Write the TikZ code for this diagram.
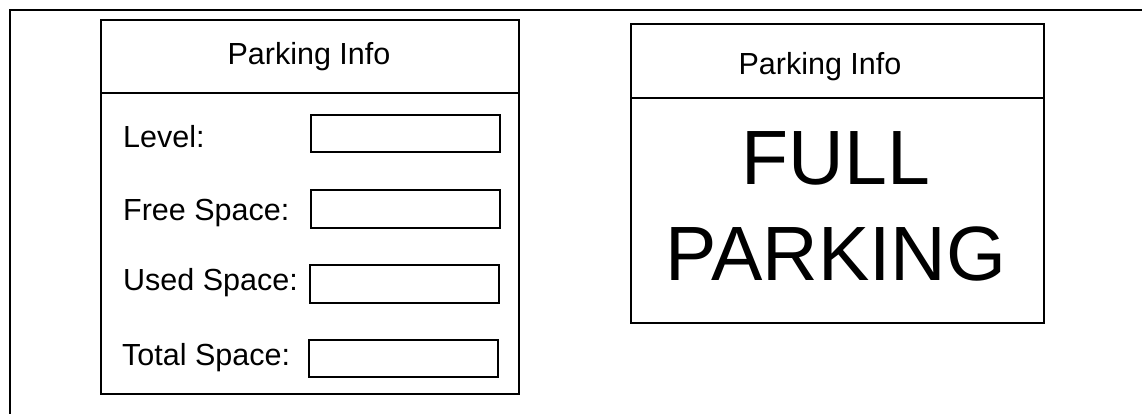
\documentclass[tikz,border=0pt]{standalone}
\usepackage{fontspec}
\setmainfont{Liberation Sans}
\begin{document}
\begin{tikzpicture}[x=1pt,y=-1pt,
  frame/.style={line width=1.8pt},
  panel/.style={draw,line width=1.9pt,inner sep=0pt,anchor=north west},
  field/.style={draw,line width=1.7pt,inner sep=0pt,anchor=north west},
  lbl/.style={anchor=base west,inner sep=0pt,font=\fontsize{30.5}{36}\selectfont},
  head/.style={anchor=base,inner sep=0pt,font=\fontsize{30.5}{36}\selectfont},
  big/.style={anchor=base,inner sep=0pt,font=\fontsize{77}{90}\selectfont}]
\useasboundingbox (0,0) rectangle (1142,414);
% outer frame
\coordinate (fTR) at (1142,10);
\coordinate (fTL) at (10,10);
\coordinate (fBL) at (10,414);
\draw[frame] (fTR) -- (fTL) -- (fBL);
% left panel
\node[panel,minimum width=418pt,minimum height=374pt] (lp) at (100,19) {};
\coordinate (ld1) at (100,93);
\coordinate (ld2) at (518,93);
\draw[line width=1.9pt] (ld1) -- (ld2);
\node[head] (lh) at (309,65) {Parking Info};
\node[lbl] (l1) at (123,148) {Level:};
\node[lbl] (l2) at (123,220) {Free Space:};
\node[lbl] (l3) at (123,290) {Used Space:};
\node[lbl] (l4) at (122,365) {Total Space:};
\node[field,minimum width=189pt,minimum height=37pt] (b1) at (310,114) {};
\node[field,minimum width=189pt,minimum height=38pt] (b2) at (310,189) {};
\node[field,minimum width=189pt,minimum height=38pt] (b3) at (309,264) {};
\node[field,minimum width=189pt,minimum height=37pt] (b4) at (308,339) {};
% right panel
\node[panel,minimum width=413pt,minimum height=299pt] (rp) at (630,23) {};
\coordinate (rd1) at (630,98);
\coordinate (rd2) at (1043,98);
\draw[line width=1.9pt] (rd1) -- (rd2);
\node[head] (rh) at (820,75) {Parking Info};
\node[big] (full) at (836,185) {FULL};
\node[big] (park) at (836,280) {PARKING};
\end{tikzpicture}
\end{document}
